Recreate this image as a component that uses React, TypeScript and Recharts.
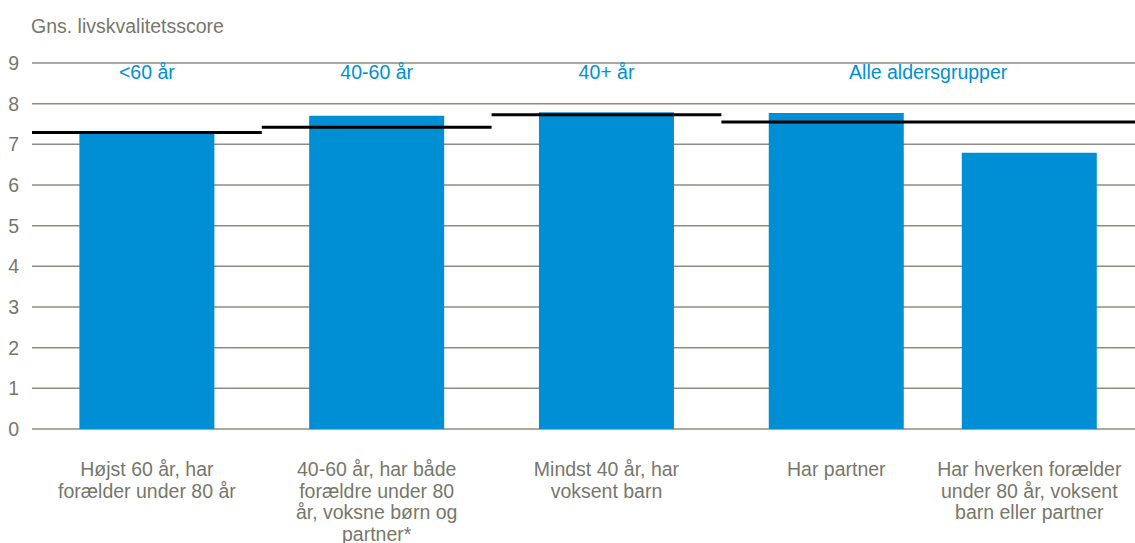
import React from 'react';
import {
  ComposedChart,
  Bar,
  XAxis,
  YAxis,
  CartesianGrid,
  ReferenceLine,
  ReferenceArea,
} from 'recharts';

// bar positions on the x scale (one unit = one age-group slot)
const positions = [0.5, 1.5, 2.5, 3.5, 4.34];
const scores = [7.28, 7.7, 7.79, 7.77, 6.79];
const categoryLines = [
  ['Højst 60 år, har', 'forælder under 80 år'],
  ['40-60 år, har både', 'forældre under 80', 'år, voksne børn og', 'partner*'],
  ['Mindst 40 år, har', 'voksent barn'],
  ['Har partner'],
  ['Har hverken forælder', 'under 80 år, voksent', 'barn eller partner'],
];

const groupLabels = ['<60 år', '40-60 år', '40+ år', 'Alle aldersgrupper'];
const groupStart = [0, 1, 2, 3];
const groupEnd = [1, 2, 3, 4.8];
const groupAverages = [7.29, 7.42, 7.73, 7.55];

const yTicks = [0, 1, 2, 3, 4, 5, 6, 7, 8, 9];

const FONT = '"Liberation Sans", Arial, sans-serif';
const GREY_TEXT = '#77776a';
const GRID = '#8d8c80';
const BLUE = '#008fd5';

const data = positions.map((pos, i) => ({ pos, score: scores[i] }));

const CategoryTick = (props: any) => {
  const { x, y, index } = props;
  const lines = categoryLines[index] || [];
  return (
    <text
      x={x}
      y={y}
      textAnchor="middle"
      fill={GREY_TEXT}
      fontSize={19.5}
      fontFamily={FONT}
    >
      {lines.map((line, i) => (
        <tspan key={i} x={x} dy={i === 0 ? 39 : 21.5}>
          {line}
        </tspan>
      ))}
    </text>
  );
};

export default function App() {
  return (
    <div style={{ position: 'absolute', left: 0, top: 0, width: 1135, height: 543, background: '#fff' }}>
      <div
        style={{
          position: 'absolute',
          left: 31,
          top: 16,
          fontFamily: FONT,
          fontSize: 19.5,
          lineHeight: '20px',
          color: GREY_TEXT,
          whiteSpace: 'nowrap',
        }}
      >
        Gns. livskvalitetsscore
      </div>
      <ComposedChart
        width={1135}
        height={543}
        data={data}
        margin={{ top: 63, right: 0, bottom: 0, left: 0 }}
      >
        <CartesianGrid vertical={false} stroke={GRID} strokeWidth={1.5} />
        <XAxis
          dataKey="pos"
          type="number"
          domain={[0, 4.8]}
          ticks={positions}
          interval={0}
          allowDataOverflow
          axisLine={false}
          tickLine={false}
          height={114}
          tick={<CategoryTick />}
        />
        <YAxis
          domain={[0, 9]}
          ticks={yTicks}
          interval={0}
          width={32}
          axisLine={false}
          tickLine={false}
          tickMargin={7}
          tick={{ fill: GREY_TEXT, fontSize: 19.5, fontFamily: FONT }}
        />
        {groupLabels.map((label, i) => (
          <ReferenceArea
            key={label}
            x1={groupStart[i]}
            x2={groupEnd[i]}
            y1={0}
            y2={9}
            fill="none"
            fillOpacity={0}
            stroke="none"
            label={{
              value: label,
              position: 'insideTop',
              offset: 2,
              fill: BLUE,
              fontSize: 19.5,
              fontFamily: FONT,
            }}
          />
        ))}
        <Bar dataKey="score" fill={BLUE} barSize={135} isAnimationActive={false} />
        {groupAverages.map((avg, i) => (
          <ReferenceLine
            key={i}
            segment={[
              { x: groupStart[i], y: avg },
              { x: groupEnd[i], y: avg },
            ]}
            stroke="#000"
            strokeWidth={3}
          />
        ))}
      </ComposedChart>
    </div>
  );
}
